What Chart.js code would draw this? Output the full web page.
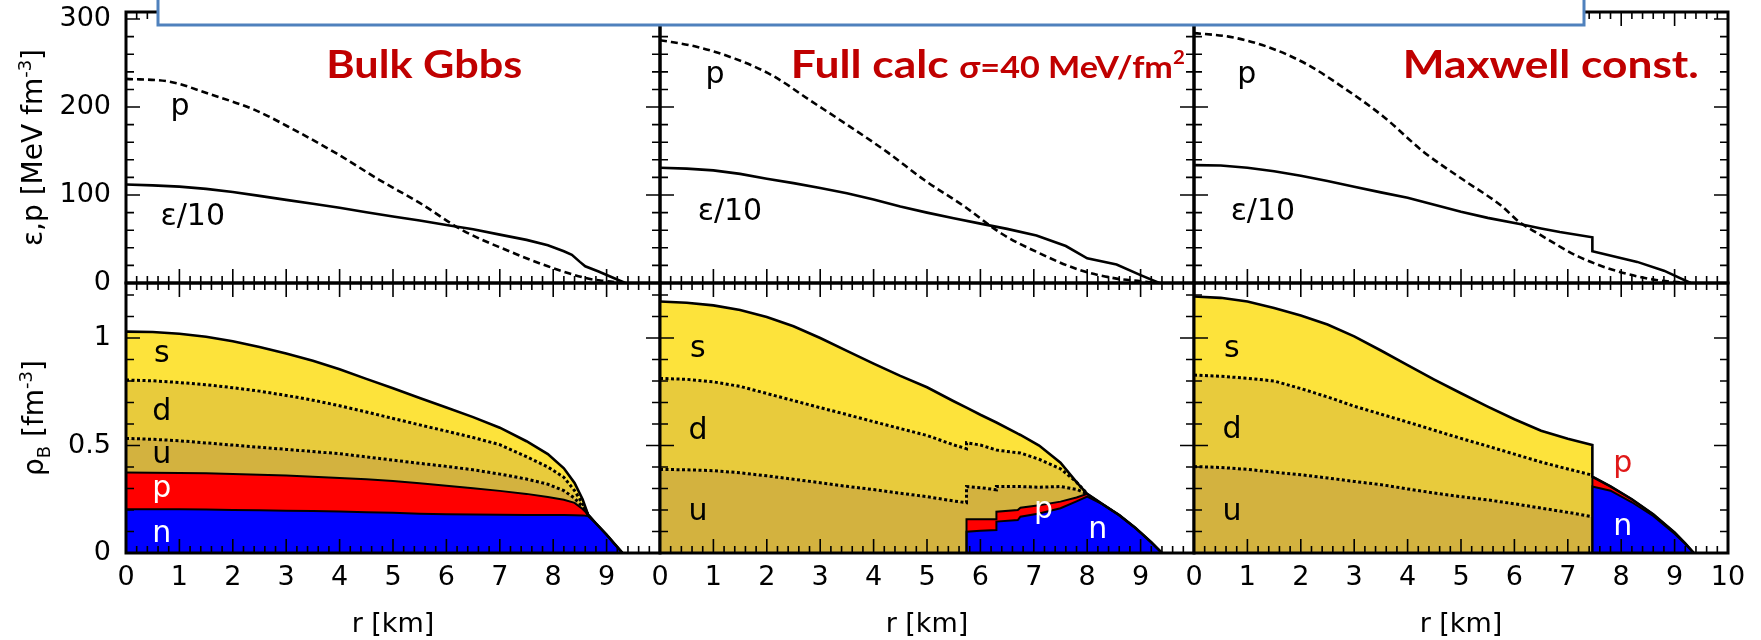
<!DOCTYPE html>
<html>
<head>
<meta charset="utf-8">
<script src="https://cdn.jsdelivr.net/npm/chart.js@4.4.1/dist/chart.umd.min.js"></script>
<style>
  body { margin: 0; background: #fff; }
  #wrap { position: relative; width: 1761px; height: 640px; overflow: hidden; }
  #wrap canvas { position: absolute; left: 0; top: 0; }
</style>
</head>
<body>
<div id="wrap"></div>
<script>
// ---- upper row: pressure p and energy density eps/10 [MeV fm^-3] vs r [km]
const pR1 = [0, 0.8, 1.6, 2.4, 3.15, 3.95, 4.75, 5.5, 6.3, 7.1, 7.9, 8.65, 9.0, 9.3];
const pV1 = [232, 229, 214, 197, 174, 147, 117, 91, 60, 38, 19, 5, 2, 0];
const eR1 = [0, 0.5, 1.0, 1.5, 2.0, 2.5, 3.0, 3.5, 4.0, 4.5, 5.0, 5.5, 6.0, 6.5, 7.0, 7.5, 7.9, 8.2, 8.35, 8.5, 8.6, 8.85, 9.1, 9.35];
const eV1 = [112, 111, 109.5, 107, 103.5, 99, 94.5, 90, 85.5, 80.5, 75.5, 71, 66, 61, 55, 49, 43, 36, 32, 24, 19, 13, 6.5, 0];

const pR2 = [0, 0.65, 1.4, 2.1, 2.8, 3.55, 4.25, 4.95, 5.7, 6.4, 7.1, 7.85, 8.55, 9.0, 9.3];
const pV2 = [276, 269, 255, 236, 208, 178, 149, 117, 87, 56, 34, 15, 5, 2, 0];
const eR2 = [0, 0.5, 1.0, 1.5, 2.0, 2.5, 3.0, 3.5, 4.0, 4.5, 5.0, 5.5, 6.0, 6.5, 7.05, 7.6, 8.0, 8.55, 9.0, 9.35];
const eV2 = [131, 130, 128, 124, 118.5, 113.5, 108, 102, 95, 87, 80, 73.5, 67.5, 61.5, 54, 42, 28, 21, 9, 0];

const pR3 = [0, 0.65, 1.35, 2.1, 2.8, 3.55, 4.3, 5.0, 5.75, 6.1, 6.45, 7.2, 7.95, 8.65, 9.25];
const pV3 = [284, 280, 269, 249, 222, 189, 149, 119, 88, 69, 56, 30, 13, 3.5, 0];
const eR3 = [0, 0.5, 1.0, 1.5, 2.0, 2.5, 3.0, 3.5, 4.0, 4.5, 5.0, 5.5, 6.1, 6.5, 6.85, 7.46, 7.46, 8.3, 8.8, 9.3];
const eV3 = [134, 133.5, 131, 127, 122, 116, 109.5, 103, 97, 89, 81, 74, 67, 62, 58, 52, 36, 24, 14, 0];

// ---- lower row: cumulative baryon density rho_B [fm^-3], boundaries n, n+p, +u, +d, +s
const rB1 = [0, 0.5, 1, 1.5, 2, 2.5, 3, 3.5, 4, 4.5, 5, 5.5, 6, 6.5, 7, 7.5, 7.9, 8.2, 8.4, 8.55, 8.65, 8.8, 9.0, 9.15, 9.3];
const nTop1 = [0.204, 0.204, 0.203, 0.202, 0.2, 0.199, 0.197, 0.195, 0.193, 0.19, 0.187, 0.183, 0.18, 0.179, 0.178, 0.177, 0.177, 0.177, 0.176, 0.175, 0.172, 0.138, 0.085, 0.042, 0];
const pTop1 = [0.374, 0.373, 0.372, 0.371, 0.368, 0.364, 0.36, 0.355, 0.349, 0.343, 0.335, 0.325, 0.313, 0.301, 0.289, 0.275, 0.26, 0.248, 0.233, 0.205, 0.18, 0.138, 0.085, 0.042, 0];
const uTop1 = [0.533, 0.529, 0.522, 0.512, 0.502, 0.492, 0.482, 0.472, 0.462, 0.447, 0.432, 0.417, 0.403, 0.387, 0.367, 0.344, 0.32, 0.29, 0.255, 0.215, 0.18, 0.138, 0.085, 0.042, 0];
const dTop1 = [0.805, 0.801, 0.793, 0.783, 0.769, 0.753, 0.733, 0.711, 0.685, 0.656, 0.626, 0.596, 0.567, 0.537, 0.504, 0.448, 0.4, 0.352, 0.29, 0.23, 0.18, 0.138, 0.085, 0.042, 0];
const sTop1 = [1.03, 1.028, 1.02, 1.006, 0.985, 0.958, 0.928, 0.894, 0.855, 0.81, 0.766, 0.721, 0.677, 0.632, 0.583, 0.52, 0.46, 0.394, 0.326, 0.25, 0.18, 0.138, 0.085, 0.042, 0];

const rB2 = [0, 0.5, 1, 1.5, 2, 2.5, 3, 3.5, 4, 4.5, 5, 5.5, 5.74, 5.74, 6.0, 6.3, 6.3, 6.7, 6.75, 7.1, 7.5, 7.8, 8.0, 8.3, 8.6, 8.9, 9.2, 9.4];
const nTop2 = [0, 0, 0, 0, 0, 0, 0, 0, 0, 0, 0, 0, 0, 0.099, 0.103, 0.107, 0.146, 0.153, 0.169, 0.184, 0.208, 0.24, 0.262, 0.225, 0.176, 0.117, 0.05, 0];
const pTop2 = [0, 0, 0, 0, 0, 0, 0, 0, 0, 0, 0, 0, 0, 0.157, 0.157, 0.157, 0.192, 0.2, 0.211, 0.222, 0.239, 0.258, 0.275, 0.225, 0.176, 0.117, 0.05, 0];
const uTop2 = [0.389, 0.387, 0.383, 0.373, 0.359, 0.343, 0.327, 0.31, 0.295, 0.278, 0.262, 0.242, 0.234, 0.309, 0.304, 0.294, 0.309, 0.309, 0.309, 0.306, 0.309, 0.296, 0.275, 0.225, 0.176, 0.117, 0.05, 0];
const dTop2 = [0.812, 0.808, 0.796, 0.775, 0.742, 0.709, 0.676, 0.644, 0.611, 0.579, 0.547, 0.503, 0.485, 0.513, 0.502, 0.479, 0.479, 0.466, 0.465, 0.436, 0.392, 0.33, 0.275, 0.225, 0.176, 0.117, 0.05, 0];
const sTop2 = [1.17, 1.164, 1.152, 1.13, 1.098, 1.055, 1.0, 0.94, 0.881, 0.824, 0.771, 0.706, 0.676, 0.676, 0.643, 0.607, 0.607, 0.555, 0.549, 0.5, 0.42, 0.33, 0.275, 0.225, 0.176, 0.117, 0.05, 0];

const rB3 = [0, 0.5, 1, 1.5, 2, 2.5, 3, 3.5, 4, 4.5, 5, 5.5, 6, 6.5, 7, 7.46, 7.46, 7.8, 8.2, 8.6, 9.0, 9.2, 9.36];
const nTop3 = [0, 0, 0, 0, 0, 0, 0, 0, 0, 0, 0, 0, 0, 0, 0, 0, 0.309, 0.29, 0.236, 0.172, 0.09, 0.043, 0];
const pTop3 = [0, 0, 0, 0, 0, 0, 0, 0, 0, 0, 0, 0, 0, 0, 0, 0, 0.355, 0.31, 0.25, 0.18, 0.095, 0.045, 0];
const uTop3 = [0.402, 0.398, 0.389, 0.376, 0.364, 0.349, 0.333, 0.318, 0.298, 0.279, 0.262, 0.247, 0.229, 0.209, 0.189, 0.169, 0.355, 0.31, 0.25, 0.18, 0.095, 0.045, 0];
const dTop3 = [0.828, 0.822, 0.813, 0.8, 0.765, 0.726, 0.683, 0.646, 0.609, 0.571, 0.533, 0.497, 0.46, 0.423, 0.391, 0.362, 0.355, 0.31, 0.25, 0.18, 0.095, 0.045, 0];
const sTop3 = [1.193, 1.187, 1.17, 1.14, 1.105, 1.063, 1.008, 0.942, 0.874, 0.807, 0.743, 0.681, 0.622, 0.569, 0.532, 0.502, 0.355, 0.31, 0.25, 0.18, 0.095, 0.045, 0];

// outer radius of the quark (mixed) region in each panel
const quarkEnd = [8.65, 8.0, 7.46];

// tick labels
const xTicks = [0, 1, 2, 3, 4, 5, 6, 7, 8, 9, 10];
const upperYTicks = [0, 100, 200, 300];
const lowerYTicks = [0, 0.5, 1];

// ---- layout
const W = 1761, H = 640;
const colLeft = [126, 660, 1194], colRight = [660, 1194, 1728];
const upTop = 12, midY = 283, lowBottom = 553;
const yLabelW = 100, xLabelH = 60;

const colN = '#0000ff', colP = '#ff0000', colU = '#d3b23f', colD = '#e8cb3c', colS = '#fde33b';
const axisFamily = '"DejaVu Sans", "Liberation Sans", sans-serif';
const noteFont = '30px ' + axisFamily;
const titleFamily = 'Lato, "Open Sans", sans-serif';

const pts = (xs, ys) => xs.map((x, i) => ({ x: x, y: ys[i] }));

function zeroPad(s) {
  s.paddingLeft = 0; s.paddingRight = 0; s.paddingTop = 0; s.paddingBottom = 0;
}

function xAxis(showLabels, showTen) {
  return {
    type: 'linear', min: 0, max: 10,
    grid: { display: false, drawTicks: false },
    border: { display: false },
    afterBuildTicks: s => { s.ticks = xTicks.map(v => ({ value: v })); },
    ticks: {
      display: showLabels, autoSkip: false, maxRotation: 0, padding: 9,
      color: '#000', font: { family: axisFamily, size: 27 },
      callback: v => (v === 10 && !showTen) ? '' : String(v)
    },
    afterFit: s => { s.height = showLabels ? xLabelH : 0; zeroPad(s); }
  };
}

function yAxis(max, tickValues, showLabels) {
  return {
    type: 'linear', min: 0, max: max,
    grid: { display: false, drawTicks: false },
    border: { display: false },
    afterBuildTicks: s => { s.ticks = tickValues.map(v => ({ value: v })); },
    ticks: {
      display: showLabels, autoSkip: false, padding: 15,
      color: '#000', font: { family: axisFamily, size: 27 },
      callback: v => String(v)
    },
    afterFit: s => { s.width = showLabels ? yLabelW : 0; zeroPad(s); }
  };
}

// text made of runs with their own size / vertical offset
function drawRuns(ctx, runs, x, y, align, width) {
  let w = 0;
  runs.forEach(r => { ctx.font = r.font; r.w = ctx.measureText(r.t).width; w += r.w; });
  const sx = width ? width / w : 1;
  ctx.save();
  ctx.translate(x, y);
  ctx.scale(sx, 1);
  ctx.textAlign = 'left';
  ctx.textBaseline = 'alphabetic';
  let cx = align === 'center' ? -w / 2 : 0;
  runs.forEach(r => {
    ctx.font = r.font;
    ctx.fillStyle = r.color || '#000';
    ctx.fillText(r.t, cx, r.dy || 0);
    cx += r.w;
  });
  ctx.restore();
}

function drawVertical(ctx, runs, cx, cy) {
  ctx.save();
  ctx.translate(cx, cy);
  ctx.rotate(-Math.PI / 2);
  drawRuns(ctx, runs, 0, 0, 'center');
  ctx.restore();
}

// frame, inward major/minor ticks on all sides, labels inside the panel
function decoPlugin(cfg) {
  return {
    id: 'deco',
    afterDraw(chart) {
      const ctx = chart.ctx, a = chart.chartArea;
      const xs = chart.scales.x, ys = chart.scales.y;
      ctx.save();
      ctx.strokeStyle = '#000';
      ctx.lineWidth = 1.6;
      ctx.beginPath();
      const nx = Math.round(xs.max / cfg.xMinor);
      const xEvery = Math.round(cfg.xMajor / cfg.xMinor);
      for (let i = 1; i < nx; i++) {
        const px = xs.getPixelForValue(i * cfg.xMinor);
        const len = i % xEvery === 0 ? 14 : 7;
        ctx.moveTo(px, a.bottom); ctx.lineTo(px, a.bottom - len);
        ctx.moveTo(px, a.top); ctx.lineTo(px, a.top + len);
      }
      const ny = Math.floor(ys.max / cfg.yMinor + 1e-6);
      const yEvery = Math.round(cfg.yMajor / cfg.yMinor);
      for (let i = 1; i <= ny; i++) {
        const py = ys.getPixelForValue(i * cfg.yMinor);
        if (py <= a.top + 2) continue;
        const len = i % yEvery === 0 ? 14 : 8;
        ctx.moveTo(a.left, py); ctx.lineTo(a.left + len, py);
        ctx.moveTo(a.right, py); ctx.lineTo(a.right - len, py);
      }
      ctx.stroke();
      ctx.lineWidth = 3;
      ctx.strokeRect(a.left, a.top, a.right - a.left, a.bottom - a.top);

      ctx.font = noteFont;
      ctx.textAlign = 'center';
      ctx.textBaseline = 'alphabetic';
      cfg.notes.forEach(n => {
        ctx.fillStyle = n.color || '#000';
        ctx.fillText(n.t, xs.getPixelForValue(n.r), ys.getPixelForValue(n.v));
      });
      if (cfg.after) cfg.after(ctx, a, xs, ys);
      ctx.restore();
    }
  };
}

function addChart(datasets, padding, scales, plugin) {
  const cv = document.createElement('canvas');
  cv.width = W; cv.height = H;
  document.getElementById('wrap').appendChild(cv);
  return new Chart(cv.getContext('2d'), {
    type: 'line',
    data: { datasets: datasets },
    options: {
      responsive: false,
      animation: false,
      events: [],
      layout: { padding: padding },
      elements: { point: { radius: 0 }, line: { tension: 0 } },
      scales: scales,
      plugins: { legend: { display: false }, title: { display: false }, tooltip: { enabled: false } }
    },
    plugins: [plugin]
  });
}

// ---- lower row
const lowerSets = [
  [rB1, nTop1, pTop1, uTop1, dTop1, sTop1],
  [rB2, nTop2, pTop2, uTop2, dTop2, sTop2],
  [rB3, nTop3, pTop3, uTop3, dTop3, sTop3]
];
const lowerNotes = [
  [{ t: 's', r: 0.67, v: 0.888 }, { t: 'd', r: 0.67, v: 0.619 }, { t: 'u', r: 0.67, v: 0.419 },
   { t: 'p', r: 0.67, v: 0.26, color: '#fff' }, { t: 'n', r: 0.67, v: 0.051, color: '#fff' }],
  [{ t: 's', r: 0.71, v: 0.912 }, { t: 'd', r: 0.71, v: 0.53 }, { t: 'u', r: 0.71, v: 0.153 },
   { t: 'p', r: 7.18, v: 0.163, color: '#fff' }, { t: 'n', r: 8.2, v: 0.07, color: '#fff' }],
  [{ t: 's', r: 0.71, v: 0.912 }, { t: 'd', r: 0.71, v: 0.535 }, { t: 'u', r: 0.71, v: 0.153 },
   { t: 'p', r: 8.03, v: 0.377, color: '#e01818' }, { t: 'n', r: 8.03, v: 0.084, color: '#fff' }]
];

lowerSets.forEach((set, k) => {
  const [r, nTop, pTop, uTop, dTop, sTop] = set;
  const cut = r.indexOf(quarkEnd[k]) + 1;
  const fillSet = (ys, color, target) => ({
    data: pts(r, ys), fill: target, backgroundColor: color, borderWidth: 0, order: 1
  });
  const lineSet = (xs, ys, width, dash) => ({
    data: pts(xs, ys), fill: false, borderColor: '#000', borderWidth: width,
    borderDash: dash || [], borderCapStyle: 'butt', order: 0
  });
  const datasets = [
    fillSet(nTop, colN, 'origin'),
    fillSet(pTop, colP, '-1'),
    fillSet(uTop, colU, '-1'),
    fillSet(dTop, colD, '-1'),
    fillSet(sTop, colS, '-1'),
    lineSet(r.slice(0, cut), uTop.slice(0, cut), 3, [3, 2.5]),
    lineSet(r.slice(0, cut), dTop.slice(0, cut), 3, [3, 2.5]),
    lineSet(r, nTop, 2),
    lineSet(r, pTop, 2),
    lineSet(r, sTop, 2.6)
  ];
  const yw = k === 0 ? yLabelW : 0;
  addChart(
    datasets,
    { left: colLeft[k] - yw, right: W - colRight[k], top: midY, bottom: H - lowBottom - xLabelH },
    { x: xAxis(true, k === 2), y: yAxis(1.256, lowerYTicks, k === 0) },
    decoPlugin({
      xMajor: 1, xMinor: 0.2, yMajor: 0.5, yMinor: 0.1,
      notes: lowerNotes[k],
      after(ctx, a) {
        drawRuns(ctx, [{ t: 'r [km]', font: '27px ' + axisFamily }], (a.left + a.right) / 2, a.bottom + 79, 'center');
        if (k === 0) {
          drawVertical(ctx, [
            { t: 'ρ', font: '28px ' + axisFamily },
            { t: 'B', font: '18px ' + axisFamily, dy: 7 },
            { t: ' [fm', font: '28px ' + axisFamily },
            { t: '-3', font: '18px ' + axisFamily, dy: -11 },
            { t: ']', font: '28px ' + axisFamily }
          ], a.left - 83, (a.top + a.bottom) / 2);
        }
      }
    })
  );
});

// ---- upper row
const upperSets = [[pR1, pV1, eR1, eV1], [pR2, pV2, eR2, eV2], [pR3, pV3, eR3, eV3]];
const upperNotes = [
  [{ t: 'p', r: 1.01, v: 191 }, { t: 'ε/10', r: 1.25, v: 66 }],
  [{ t: 'p', r: 1.03, v: 227 }, { t: 'ε/10', r: 1.31, v: 72 }],
  [{ t: 'p', r: 0.99, v: 227 }, { t: 'ε/10', r: 1.29, v: 72 }]
];
const red = '#c00000';
const bigTitle = 'bold 39px ' + titleFamily;
const panelTitles = [
  { r: 3.75, width: 196, runs: [{ t: 'Bulk Gbbs', font: bigTitle, color: red }] },
  { r: 2.45, width: 394, runs: [
      { t: 'Full calc ', font: bigTitle, color: red },
      { t: 'σ=40 MeV/fm', font: 'bold 30px ' + titleFamily, color: red },
      { t: '2', font: 'bold 18px ' + titleFamily, color: red, dy: -14 }
    ] },
  { r: 3.91, width: 296, runs: [{ t: 'Maxwell const.', font: bigTitle, color: red }] }
];

upperSets.forEach((set, k) => {
  const [pr, pv, er, ev] = set;
  const datasets = [
    { data: pts(pr, pv), borderColor: '#000', borderWidth: 2.6, borderDash: [7, 4],
      cubicInterpolationMode: 'monotone', fill: false },
    { data: pts(er, ev), borderColor: '#000', borderWidth: 2.6, tension: 0, fill: false }
  ];
  const yw = k === 0 ? yLabelW : 0;
  addChart(
    datasets,
    { left: colLeft[k] - yw, right: W - colRight[k], top: upTop, bottom: H - midY },
    { x: xAxis(false, false), y: yAxis(308, upperYTicks, k === 0) },
    decoPlugin({
      xMajor: 1, xMinor: 0.2, yMajor: 100, yMinor: 20,
      notes: upperNotes[k],
      after(ctx, a, xs) {
        const t = panelTitles[k];
        drawRuns(ctx, t.runs, xs.getPixelForValue(t.r), a.top + 66, 'left', t.width);
        if (k === 0) {
          drawVertical(ctx, [
            { t: 'ε,p [MeV fm', font: '28px ' + axisFamily },
            { t: '-3', font: '18px ' + axisFamily, dy: -11 },
            { t: ']', font: '28px ' + axisFamily }
          ], a.left - 84, (a.top + a.bottom) / 2);
        }
        if (k === 2) {
          // slide title box overlapping the top of the figure
          ctx.fillStyle = '#fff';
          ctx.fillRect(158, -10, 1426, 35);
          ctx.strokeStyle = '#4f81bd';
          ctx.lineWidth = 3;
          ctx.strokeRect(158, -10, 1426, 35);
        }
      }
    })
  );
});
</script>
</body>
</html>
